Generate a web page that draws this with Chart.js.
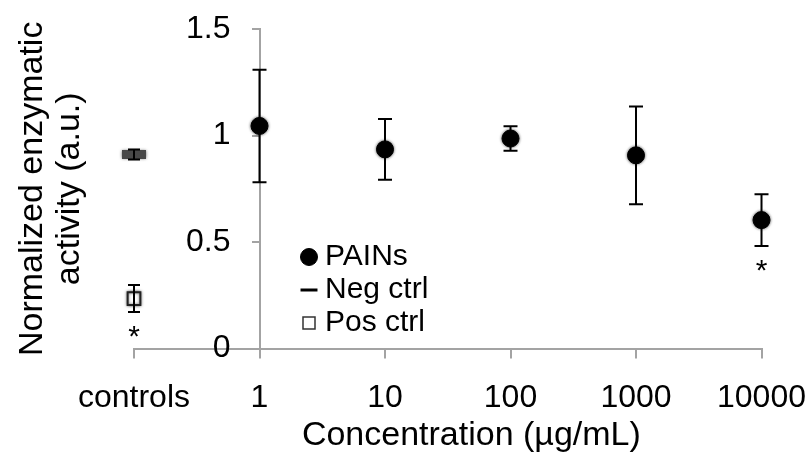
<!DOCTYPE html>
<html>
<head>
<meta charset="utf-8">
<script src="https://cdn.jsdelivr.net/npm/chart.js@4.4.1/dist/chart.umd.min.js"></script>
<style>
  html, body { margin: 0; padding: 0; background: #ffffff; }
  #wrap { width: 806px; height: 454px; }
</style>
</head>
<body>
<div id="wrap"><canvas id="c" width="806" height="454"></canvas></div>
<script>
// ---- data ----
const categories = ['controls', '1', '10', '100', '1000', '10000'];
const painsMean = [null, 1.045, 0.935, 0.986, 0.907, 0.603];
const painsErr  = [null, 0.264, 0.143, 0.058, 0.229, 0.122];
const painsSig  = ['', '', '', '', '', '*'];
const negMean   = [0.911, null, null, null, null, null];
const negErr    = [0.023, null, null, null, null, null];
const negSig    = ['', '', '', '', '', ''];
const posMean   = [0.235, null, null, null, null, null];
const posErr    = [0.063, null, null, null, null, null];
const posSig    = ['*', '', '', '', '', ''];
const seriesNames = ['PAINs', 'Neg ctrl', 'Pos ctrl'];
const yMin = 0, yMax = 1.5, yStep = 0.5;
const xTitle = 'Concentration (µg/mL)';
const yTitle = ['Normalized enzymatic', 'activity (a.u.)'];

const FONT = "'Liberation Sans', Arial, sans-serif";
const AXIS = '#a3a3a3';

const errorBars = {
  id: 'errorBars',
  beforeDatasetsDraw(chart) {
    const ctx = chart.ctx;
    ctx.save();
    ctx.shadowColor = 'rgba(0,0,0,0.6)';
    ctx.shadowBlur = 3;
  },
  afterDatasetsDraw(chart) {
    const ctx = chart.ctx;
    ctx.restore();
    const xs = chart.scales.x, ys = chart.scales.y;
    chart.data.datasets.forEach((ds) => {
      const errs = ds.errors, sig = ds.sig;
      ds.data.forEach((v, j) => {
        if (v === null || errs[j] === null) return;
        const x = xs.getPixelForValue(j);
        const yt = ys.getPixelForValue(v + errs[j]);
        const yb = ys.getPixelForValue(v - errs[j]);
        const hw = ds.capHalf;
        ctx.save();
        ctx.strokeStyle = '#000';
        ctx.lineWidth = 2;
        ctx.beginPath();
        ctx.moveTo(x, yt); ctx.lineTo(x, yb);
        ctx.moveTo(x - hw, yt); ctx.lineTo(x + hw, yt);
        ctx.moveTo(x - hw, yb); ctx.lineTo(x + hw, yb);
        ctx.stroke();
        if (sig[j]) {
          ctx.fillStyle = '#000';
          ctx.font = '30px ' + FONT;
          ctx.textAlign = 'center';
          ctx.textBaseline = 'middle';
          ctx.fillText(sig[j], x, yb + 26);
        }
        ctx.restore();
      });
    });
  },
  beforeDraw(chart) {
    const lg = chart.legend;
    if (lg) {
      lg.left = 305; lg.top = 239;
      lg.right = lg.left + 300; lg.bottom = lg.top + 150;
      if (!lg._noClipPatched) {
        lg.draw = function () { if (this.options.display) this._draw(); };
        lg._noClipPatched = true;
      }
    }
    // move the y tick labels to the left of the (centre-positioned) y axis
    const ys = chart.scales.y;
    if (ys && ys.getLabelItems) {
      const items = ys.getLabelItems();
      if (!items._shifted) {
        items.forEach(it => { if (it.options && it.options.translation) it.options.translation[0] -= 29; });
        items._shifted = true;
      }
    }
  }
};

new Chart(document.getElementById('c'), {
  type: 'line',
  data: {
    labels: categories,
    datasets: [
      {
        label: seriesNames[0], data: painsMean, errors: painsErr, sig: painsSig, capHalf: 7,
        showLine: false, pointStyle: 'circle', pointRadius: 8.5, pointHoverRadius: 8.5,
        pointBackgroundColor: '#000', pointBorderColor: '#000', pointBorderWidth: 1,
        backgroundColor: '#000', borderColor: '#000'
      },
      {
        label: seriesNames[1], data: negMean, errors: negErr, sig: negSig, capHalf: 6,
        showLine: false, pointStyle: 'line', pointRadius: 12, pointHoverRadius: 12,
        pointBorderColor: '#484848', pointBorderWidth: 9, pointBackgroundColor: '#484848',
        backgroundColor: '#000', borderColor: '#000'
      },
      {
        label: seriesNames[2], data: posMean, errors: posErr, sig: posSig, capHalf: 6,
        showLine: false, pointStyle: 'rect', pointRadius: 9, pointHoverRadius: 9,
        pointBackgroundColor: '#fff', pointBorderColor: '#222', pointBorderWidth: 2,
        backgroundColor: '#fff', borderColor: '#222'
      }
    ]
  },
  plugins: [errorBars],
  options: {
    responsive: false,
    animation: false,
    events: [],
    clip: false,
    layout: { padding: { top: 29, right: 0, bottom: 0, left: 0 } },
    plugins: {
      tooltip: { enabled: false },
      legend: {
        display: true,
        position: 'chartArea',
        align: 'start',
        labels: {
          usePointStyle: true,
          boxWidth: 2,
          boxHeight: 12,
          padding: 3,
          color: '#000',
          font: { family: FONT, size: 30 },
          generateLabels(chart) {
            const items = Chart.defaults.plugins.legend.labels.generateLabels(chart);
            items.forEach((it, i) => {
              if (i === 0) { it.fillStyle = '#000'; it.strokeStyle = '#000'; it.lineWidth = 1; }
              if (i === 1) { it.fillStyle = '#000'; it.strokeStyle = '#000'; it.lineWidth = 3; }
              if (i === 2) { it.fillStyle = '#fff'; it.strokeStyle = '#333'; it.lineWidth = 1.5; }
            });
            return items;
          }
        }
      }
    },
    scales: {
      x: {
        type: 'category',
        offset: false,
        grid: { display: true, offset: false, drawOnChartArea: false, drawTicks: true, tickLength: 10, color: AXIS, lineWidth: 2 },
        border: { display: true, color: AXIS, width: 2 },
        ticks: { color: '#000', font: { family: FONT, size: 32, lineHeight: 2.5 }, padding: 0, maxRotation: 0, autoSkip: false },
        title: { display: true, text: '     ' + xTitle, color: '#000', font: { family: FONT, size: 34, lineHeight: 1.1 }, padding: { top: -22, bottom: 0 } }
      },
      y: {
        type: 'linear',
        position: { x: 1 },
        min: yMin, max: yMax,
        grid: { display: true, drawOnChartArea: false, drawTicks: true, tickLength: 7, color: AXIS, lineWidth: 2 },
        border: { display: true, color: AXIS, width: 2 },
        ticks: { stepSize: yStep, color: '#000', font: { family: FONT, size: 32 }, padding: 0, callback: (v) => String(v) }
      },
      yt: {
        type: 'linear',
        position: 'left',
        display: true,
        grid: { display: false },
        border: { display: false },
        ticks: { display: false },
        afterFit(s) { s.width = 134; },
        title: { display: true, text: yTitle, color: '#000', font: { family: FONT, size: 34, lineHeight: 1.1 }, padding: { top: 14, bottom: 0 } }
      }
    }
  }
});
</script>
</body>
</html>
